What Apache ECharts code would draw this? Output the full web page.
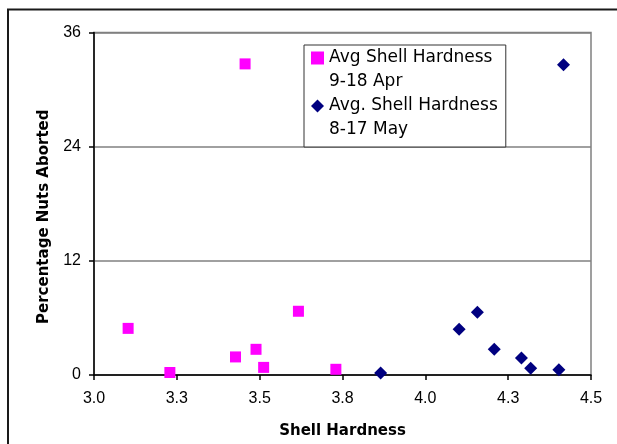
<!DOCTYPE html>
<html>
<head>
<meta charset="utf-8">
<script src="https://cdn.jsdelivr.net/npm/echarts@6/dist/echarts.min.js"></script>
<style>
  html, body { margin: 0; padding: 0; background: #fff; }
  #chart { width: 617px; height: 444px; }
</style>
</head>
<body>
<div id="chart"></div>
<script>
// Data
const aprilHardness = [3.103, 3.229, 3.427, 3.456, 3.489, 3.512, 3.617, 3.730];
const aprilAborted  = [4.9,   0.26,  1.9,   32.7,  2.7,   0.8,   6.7,   0.6];
const mayHardness   = [3.865, 4.102, 4.157, 4.208, 4.290, 4.318, 4.403, 4.417];
const mayAborted    = [0.2,   4.8,   6.6,   2.7,   1.8,   0.7,   0.55,  32.6];
const seriesNames   = ['Avg Shell Hardness\n9-18 Apr', 'Avg. Shell Hardness\n8-17 May'];
const xTitle = 'Shell Hardness';
const yTitle = 'Percentage Nuts Aborted';

const pair = (xs, ys) => xs.map((x, i) => [x, ys[i]]);

const chart = echarts.init(document.getElementById('chart'), null, { renderer: 'canvas' });
chart.setOption({
  backgroundColor: '#ffffff',
  animation: false,
  graphic: [{
    type: 'rect',
    shape: { x: 8, y: 9.5, width: 700, height: 500 },
    style: { fill: 'none', stroke: '#1a1a1a', lineWidth: 2 },
    silent: true, z: -1
  }],
  grid: {
    left: 94, right: 26, top: 32.5, bottom: 66.5,
    show: true, borderColor: '#808080', borderWidth: 1.5, backgroundColor: 'transparent'
  },
  legend: {
    orient: 'vertical',
    left: 304, top: 45,
    itemWidth: 13, itemHeight: 13,
    itemGap: -24,
    padding: [-23, 8, 5, 7],
    borderColor: '#333', borderWidth: 1,
    backgroundColor: '#fff',
    formatter: name => '\n' + name,
    textStyle: {
      fontFamily: 'DejaVu Sans', fontSize: 17, color: '#000',
      lineHeight: 24
    },
    data: [
      { name: seriesNames[0], icon: 'rect' },
      { name: seriesNames[1], icon: 'diamond' }
    ]
  },
  xAxis: {
    type: 'value', min: 3.0, max: 4.5, interval: 0.25,
    name: xTitle, nameLocation: 'middle', nameGap: 49,
    nameTextStyle: { fontFamily: 'DejaVu Sans', fontWeight: 'bold', fontSize: 15, color: '#000' },
    axisLine: { lineStyle: { color: '#000', width: 1.5 } },
    axisTick: { show: true, inside: false, length: 5, lineStyle: { color: '#000', width: 1.5 } },
    axisLabel: {
      margin: 16, color: '#000', fontFamily: 'Liberation Sans', fontSize: 16,
      formatter: v => v.toFixed(1)
    },
    splitLine: { show: false }
  },
  yAxis: {
    type: 'value', min: 0, max: 36, interval: 12,
    name: yTitle, nameLocation: 'middle', nameGap: 42,
    nameTextStyle: {
      fontFamily: 'DejaVu Sans', fontWeight: 'bold', fontSize: 15, color: '#000',
      padding: [0, 26, 0, 0]
    },
    axisLine: { show: true, lineStyle: { color: '#000', width: 1.5 } },
    axisTick: { show: true, inside: false, length: 5, lineStyle: { color: '#000', width: 1.5 } },
    axisLabel: { margin: 13, color: '#000', fontFamily: 'Liberation Sans', fontSize: 16 },
    splitLine: { show: true, lineStyle: { color: '#808080', width: 1.5 } }
  },
  series: [
    {
      name: seriesNames[0], type: 'scatter', symbol: 'rect', symbolSize: 11,
      itemStyle: { color: '#FF00FF', opacity: 1 },
      data: pair(aprilHardness, aprilAborted)
    },
    {
      name: seriesNames[1], type: 'scatter', symbol: 'diamond', symbolSize: 13,
      itemStyle: { color: '#000080', opacity: 1 },
      data: pair(mayHardness, mayAborted)
    }
  ]
});
</script>
</body>
</html>
